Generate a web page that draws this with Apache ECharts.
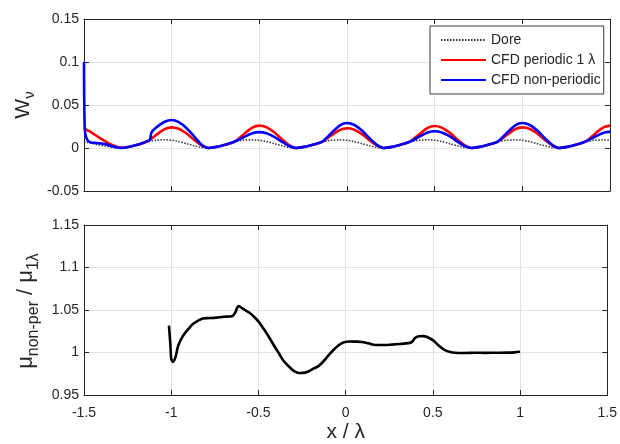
<!DOCTYPE html>
<html><head><meta charset="utf-8">
<script src="https://cdn.jsdelivr.net/npm/echarts@6/dist/echarts.min.js"></script>
<style>html,body{margin:0;padding:0;background:#fff}#c{width:620px;height:444px}</style>
</head><body><div id="c"></div>
<script>
// ---- tick values ----
const xTicks = [-1.5, -1, -0.5, 0, 0.5, 1, 1.5];
const wTicks = [-0.05, 0, 0.05, 0.1, 0.15];
const muTicks = [0.95, 1, 1.05, 1.1, 1.15];
const seriesNames = ['Dore', 'CFD periodic 1 λ', 'CFD non-periodic'];

// ---- top panel: x positions shared by Dore & periodic CFD ----
const xRD = [-1.5, -1.49, -1.47, -1.45, -1.42, -1.38, -1.34, -1.29,
  -1.24, -1.19, -1.14, -1.09, -1.04, -1.0, -0.96, -0.915, -0.87, -0.83, -0.79,
  -0.74, -0.69, -0.64, -0.59, -0.54, -0.5, -0.46, -0.415, -0.37, -0.33, -0.29,
  -0.24, -0.19, -0.14, -0.09, -0.04, 0, 0.04, 0.085, 0.13, 0.17, 0.21,
  0.26, 0.31, 0.36, 0.41, 0.46, 0.5, 0.54, 0.585, 0.63, 0.67, 0.71,
  0.76, 0.81, 0.86, 0.91, 0.96, 1.0, 1.04, 1.085, 1.13, 1.17, 1.21,
  1.26, 1.31, 1.36, 1.41, 1.46, 1.5];
const dore = [0.0075, 0.007, 0.006, 0.0052, 0.0038, 0.0022, 0.0009, 0,
  0.0015, 0.004, 0.0072, 0.009, 0.0095, 0.009, 0.0075, 0.005, 0.0025, 0.0007, 0,
  0.0015, 0.004, 0.0072, 0.009, 0.0095, 0.009, 0.0075, 0.005, 0.0025, 0.0007, 0,
  0.0015, 0.004, 0.0072, 0.009, 0.0095, 0.009, 0.0075, 0.005, 0.0025, 0.0007, 0,
  0.0015, 0.004, 0.0072, 0.009, 0.0095, 0.009, 0.0075, 0.005, 0.0025, 0.0007, 0,
  0.0015, 0.004, 0.0072, 0.009, 0.0095, 0.009, 0.0075, 0.005, 0.0025, 0.0007, 0,
  0.0015, 0.004, 0.0072, 0.009, 0.0095, 0.009];
const periodic = [0.022, 0.0215, 0.0195, 0.017, 0.013, 0.008, 0.0035, 0.0005,
  0.0015, 0.004, 0.0075, 0.0149, 0.022, 0.024, 0.0223, 0.0168, 0.0091, 0.0031, 0,
  0.0015, 0.004, 0.0075, 0.0158, 0.0238, 0.026, 0.0242, 0.0182, 0.0099, 0.0034, 0,
  0.0015, 0.004, 0.0075, 0.0145, 0.0211, 0.023, 0.0214, 0.0161, 0.0087, 0.003, 0,
  0.0015, 0.004, 0.0075, 0.0156, 0.0233, 0.0255, 0.0237, 0.0179, 0.0097, 0.0033, 0,
  0.0015, 0.004, 0.0075, 0.0149, 0.022, 0.024, 0.0223, 0.0168, 0.0091, 0.0031, 0,
  0.0015, 0.004, 0.0075, 0.0158, 0.0238, 0.026];

// ---- top panel: non-periodic CFD ----
const xNonPer = [-1.5, -1.499, -1.496, -1.492, -1.485, -1.475, -1.46, -1.44, -1.41, -1.38, -1.35, -1.32, -1.29,
  -1.24, -1.19, -1.14, -1.125, -1.115, -1.09, -1.04, -1.0, -0.96, -0.915, -0.87, -0.83, -0.79,
  -0.74, -0.69, -0.64, -0.59, -0.54, -0.5, -0.46, -0.415, -0.37, -0.33, -0.29,
  -0.24, -0.19, -0.14, -0.09, -0.04, 0, 0.04, 0.085, 0.13, 0.17, 0.21,
  0.26, 0.31, 0.36, 0.41, 0.46, 0.5, 0.54, 0.585, 0.63, 0.67, 0.71,
  0.76, 0.81, 0.86, 0.91, 0.96, 1.0, 1.04, 1.085, 1.13, 1.17, 1.21,
  1.26, 1.31, 1.36, 1.41, 1.46, 1.5];
const nonPer = [0.100, 0.060, 0.024, 0.016, 0.011, 0.008, 0.0065, 0.006, 0.0055, 0.0045, 0.0025, 0.001, 0,
  0.0015, 0.004, 0.008, 0.009, 0.018, 0.0235, 0.0305, 0.0325, 0.030, 0.023, 0.013, 0.004, 0,
  0.0015, 0.004, 0.0075, 0.0125, 0.0172, 0.0185, 0.0172, 0.013, 0.0071, 0.0024, 0,
  0.0015, 0.004, 0.0075, 0.0172, 0.0264, 0.029, 0.027, 0.0203, 0.011, 0.0038, 0,
  0.0015, 0.004, 0.0075, 0.0129, 0.0181, 0.0195, 0.0181, 0.0137, 0.0074, 0.0025, 0,
  0.0015, 0.004, 0.0075, 0.0172, 0.0264, 0.029, 0.027, 0.0203, 0.011, 0.0038, 0,
  0.0015, 0.004, 0.0075, 0.0127, 0.0175, 0.019];

// ---- bottom panel: viscosity ratio ----
const xRatio = [-1.013, -1.005, -1.0, -0.99, -0.975, -0.962, -0.945, -0.924, -0.9, -0.876, -0.85, -0.819, -0.78,
  -0.743, -0.7, -0.648, -0.633, -0.614, -0.585, -0.553, -0.525, -0.496, -0.467, -0.439, -0.41, -0.382,
  -0.355, -0.325, -0.295, -0.268, -0.24, -0.211, -0.185, -0.154, -0.125, -0.097, -0.07, -0.04, -0.01,
  0.027, 0.06, 0.093, 0.13, 0.17, 0.22, 0.264, 0.31, 0.36, 0.38, 0.398, 0.42, 0.445, 0.47, 0.502,
  0.535, 0.569, 0.6, 0.626, 0.68, 0.74, 0.8, 0.87, 0.93, 0.97, 1.0];
const ratio = [1.0316, 1.01, 0.993, 0.989, 0.995, 1.0066, 1.015, 1.022, 1.028, 1.0335, 1.037, 1.040, 1.0405,
  1.041, 1.042, 1.043, 1.047, 1.0547, 1.051, 1.047, 1.042, 1.0355, 1.027, 1.018, 1.008, 0.9988,
  0.990, 0.9835, 0.978, 0.9758, 0.976, 0.978, 0.981, 0.9843, 0.990, 0.997, 1.003, 1.0085, 1.012,
  1.013, 1.0128, 1.0124, 1.0108, 1.0089, 1.0088, 1.0093, 1.010, 1.011, 1.0125, 1.017, 1.019, 1.0193, 1.018, 1.0143,
  1.008, 1.0028, 1.0005, 0.9997, 0.9995, 0.9997, 0.9996, 0.9997, 0.9998, 1.0002, 1.0008];

const pair = (xs, ys) => xs.map((x, i) => [x, ys[i]]);
const FONT = '"Liberation Sans", Arial, Helvetica, sans-serif';
const AX = '#262626';
const GRIDC = '#e3e3e3';

function axisCommon(ticks, gridIndex, position, showLabel, showSplit, labelMargin) {
  return {
    type: 'value', gridIndex, position,
    min: ticks[0], max: ticks[ticks.length - 1], interval: ticks[1] - ticks[0],
    axisLine: { show: true, onZero: false, lineStyle: { color: AX, width: 1 } },
    axisTick: { show: true, inside: true, length: 5, lineStyle: { color: AX, width: 1 } },
    axisLabel: { show: showLabel, margin: labelMargin, color: AX, fontSize: 14, fontFamily: FONT },
    splitLine: { show: showSplit, lineStyle: { color: GRIDC, width: 1 } }
  };
}

const chart = echarts.init(document.getElementById('c'), null, { renderer: 'canvas' });
chart.setOption({
  animation: false,
  backgroundColor: '#ffffff',
  grid: [
    { left: 84, right: 10, top: 19, height: 172 },
    { left: 84, right: 10, top: 225, height: 173 }
  ],
  xAxis: [
    axisCommon(xTicks, 0, 'bottom', false, true, 8),
    axisCommon(xTicks, 0, 'top', false, false, 8),
    Object.assign(axisCommon(xTicks, 1, 'bottom', true, true, 11), {
      name: 'x / λ', nameLocation: 'middle', nameGap: 27,
      nameTextStyle: { fontSize: 21, color: AX, fontFamily: FONT }
    }),
    axisCommon(xTicks, 1, 'top', false, false, 8)
  ],
  yAxis: [
    axisCommon(wTicks, 0, 'left', true, true, 5),
    axisCommon(wTicks, 0, 'right', false, false, 5),
    axisCommon(muTicks, 1, 'left', true, true, 5),
    axisCommon(muTicks, 1, 'right', false, false, 5)
  ],
  legend: {
    orient: 'vertical', left: 430, top: 26,
    padding: [7, 3, 7, 10], itemWidth: 45, itemHeight: 14, itemGap: 6,
    backgroundColor: '#ffffff', borderColor: '#3a3a3a', borderWidth: 1, borderRadius: 0,
    itemStyle: { opacity: 0, borderWidth: 0 },
    textStyle: { fontSize: 14, color: AX, fontFamily: FONT },
    data: seriesNames
  },
  graphic: [
    {
      type: 'text', x: 25, y: 105, rotation: Math.PI / 2,
      style: {
        text: '{m|W}{s|ν}', align: 'center', verticalAlign: 'middle', fill: AX,
        rich: {
          m: { fontSize: 21, lineHeight: 21, verticalAlign: 'top', fontFamily: FONT, fill: AX },
          s: { fontSize: 15, lineHeight: 24, verticalAlign: 'bottom', fontFamily: FONT, fill: AX }
        }
      }
    },
    {
      type: 'text', x: 28, y: 311, rotation: Math.PI / 2,
      style: {
        text: '{m|μ}{s|non-per}{m| / μ}{s|1λ}', align: 'center', verticalAlign: 'middle', fill: AX,
        rich: {
          m: { fontSize: 22, lineHeight: 22, verticalAlign: 'top', fontFamily: FONT, fill: AX },
          s: { fontSize: 16, lineHeight: 27, verticalAlign: 'bottom', fontFamily: FONT, fill: AX }
        }
      }
    }
  ],
  series: [
    {
      name: seriesNames[0], type: 'line', xAxisIndex: 0, yAxisIndex: 0,
      data: pair(xRD, dore), smooth: 0.3, symbol: 'none',
      lineStyle: { color: '#333333', width: 1.5, type: [1.5, 1.5] }, itemStyle: { color: '#333333' }
    },
    {
      name: seriesNames[1], type: 'line', xAxisIndex: 0, yAxisIndex: 0,
      data: pair(xRD, periodic), smooth: 0.3, symbol: 'none',
      lineStyle: { color: '#ff0000', width: 2.6 }, itemStyle: { color: '#ff0000' }
    },
    {
      name: seriesNames[2], type: 'line', xAxisIndex: 0, yAxisIndex: 0,
      data: pair(xNonPer, nonPer), smooth: 0.3, symbol: 'none',
      lineStyle: { color: '#0000ff', width: 2.6 }, itemStyle: { color: '#0000ff' }
    },
    {
      name: 'ratio', type: 'line', xAxisIndex: 2, yAxisIndex: 2,
      data: pair(xRatio, ratio), smooth: 0.3, symbol: 'none',
      lineStyle: { color: '#000000', width: 2.6 }, itemStyle: { color: '#000000' }
    }
  ]
});
</script>
</body></html>
